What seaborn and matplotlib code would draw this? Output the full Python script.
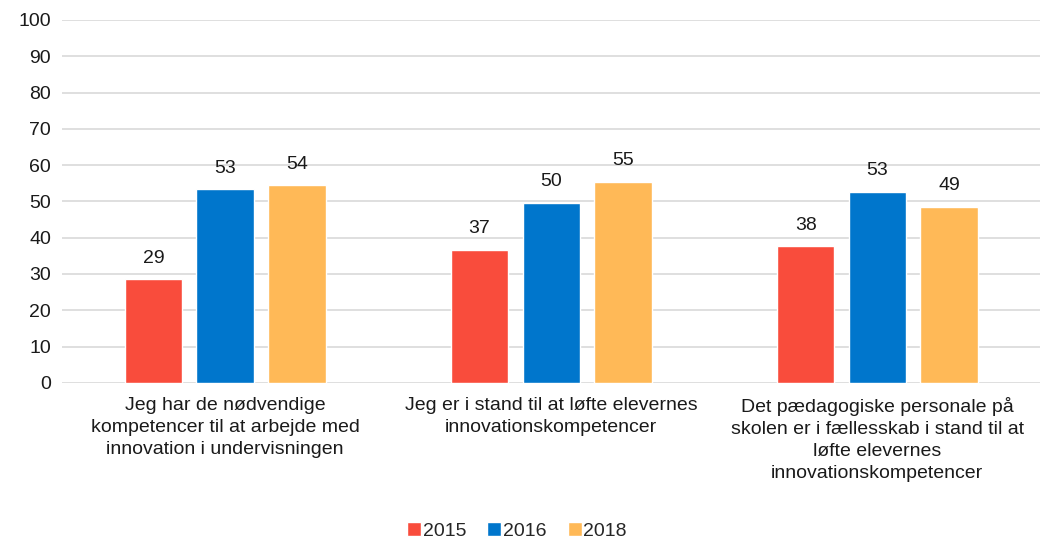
import matplotlib
matplotlib.use("Agg")
import matplotlib.pyplot as plt
import pandas as pd
import seaborn as sns

categories = [
    "Jeg har de nødvendige\nkompetencer til at arbejde med\ninnovation i undervisningen",
    "Jeg er i stand til at løfte elevernes\ninnovationskompetencer",
    "Det pædagogiske personale på\nskolen er i fællesskab i stand til at\nløfte elevernes\ninnovationskompetencer",
]
years = ["2015", "2016", "2018"]
values_2015 = [28.5, 36.7, 37.7]
values_2016 = [53.4, 49.7, 52.7]
values_2018 = [54.4, 55.4, 48.6]
labels_2015 = ["29", "37", "38"]
labels_2016 = ["53", "50", "53"]
labels_2018 = ["54", "55", "49"]
colors = ["#F94C3C", "#0076CC", "#FFB957"]

rows = []
for year, vals in zip(years, [values_2015, values_2016, values_2018]):
    for cat, v in zip(categories, vals):
        rows.append({"kategori": cat, "år": year, "værdi": v})
df = pd.DataFrame(rows)

sns.set_style("white")
plt.rcParams["font.family"] = ["Liberation Sans", "DejaVu Sans"]

fig = plt.figure(figsize=(10.42, 5.4), dpi=100)
ax = fig.add_axes([0.0595, 0.291, 0.939, 0.672])

sns.barplot(
    data=df,
    x="kategori",
    y="værdi",
    hue="år",
    palette=colors,
    width=0.66,
    gap=0.2,
    errorbar=None,
    saturation=1,
    ax=ax,
)

for cont, labs in zip(ax.containers, [labels_2015, labels_2016, labels_2018]):
    ax.bar_label(cont, labels=labs, padding=9, fontsize=14, color="#1a1a1a")

ax.set_ylim(0, 100)
ax.set_yticks(range(0, 101, 10))
ax.yaxis.grid(True, color="#d9d9d9", linewidth=1.2)
ax.set_axisbelow(True)
for s in ax.spines.values():
    s.set_visible(False)
ax.tick_params(axis="both", length=0, labelsize=14, colors="#1a1a1a")
ax.tick_params(axis="y", pad=8)
ax.tick_params(axis="x", pad=10)
for t in ax.get_xticklabels():
    t.set_linespacing(1.38)
ax.set_xlabel("")
ax.set_ylabel("")
ax.set_xlim(-0.5, 2.5)

leg = ax.legend(
    loc="lower center",
    bbox_to_anchor=(0.465, -0.48),
    ncol=3,
    frameon=False,
    fontsize=14,
    handlelength=0.7,
    handleheight=0.7,
    handletextpad=0.1,
    columnspacing=1.1,
)

fig.savefig("out.png", dpi=100)
